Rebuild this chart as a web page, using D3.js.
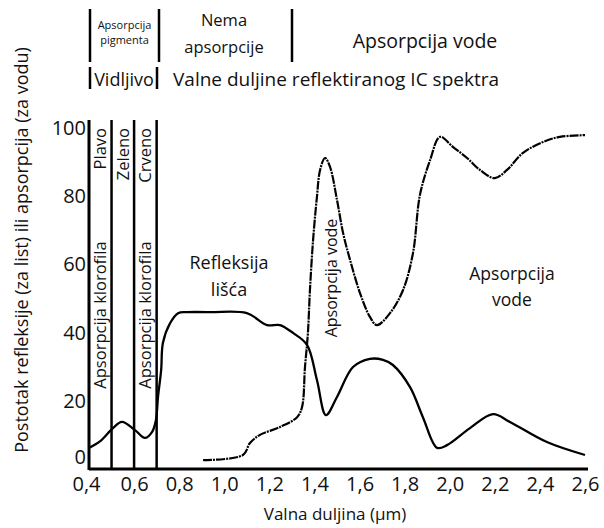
<!DOCTYPE html>
<html><head><meta charset="utf-8">
<script src="https://cdn.jsdelivr.net/npm/d3@7"></script>
<style>
html,body{margin:0;padding:0;background:#fff;}
text{font-family:"Open Sans",sans-serif;fill:#111;}
</style></head>
<body><svg id="c" width="604" height="528"></svg>
<script>
// wavelength (µm) and percent values
const leafWavelength = [0.40,0.45,0.506,0.546,0.604,0.648,0.68,0.697,0.706,0.72,0.728,0.76,0.795,0.835,0.94,1.10,1.19,1.247,1.305,1.367,1.411,1.451,1.50,1.571,1.646,1.704,1.748,1.824,1.881,1.944,1.988,2.09,2.192,2.267,2.431,2.60];
const leafReflect    = [6.2,8.2,12.0,13.8,11.4,9.1,10.9,14.4,21.1,29,37,42.8,45.7,46,46,45.7,42.2,42.2,39.9,36.4,26.1,15.8,21.1,29.9,32.3,32.0,30.5,24.0,15.2,6.2,7.0,12.0,16.1,13.8,7.9,4.1];
const waterWavelength = [0.906,1.083,1.114,1.158,1.247,1.323,1.345,1.358,1.371,1.380,1.394,1.411,1.425,1.447,1.469,1.50,1.527,1.558,1.602,1.646,1.677,1.735,1.793,1.837,1.868,1.913,1.957,2.015,2.077,2.134,2.20,2.254,2.325,2.414,2.489,2.60];
const waterAbsorb     = [2.6,4.1,7.6,10.0,12.3,15.2,18.2,29.9,39.9,52.5,67.2,79.8,87.7,91.2,88.6,78.9,69.2,61.3,51.6,44.6,42.2,45.7,52.5,63.3,80.4,90.6,97.4,94.4,91.2,87.7,85.3,87.7,92.7,95.9,97.4,97.9];
const xTicks = [0.4,0.6,0.8,1.0,1.2,1.4,1.6,1.8,2.0,2.2,2.4,2.6];
const yTicks = [0,20,40,60,80,100];
const bandEdges = [0.5,0.6,0.7];
const bandNames = [{x:0.45,t:"Plavo"},{x:0.55,t:"Zeleno"},{x:0.65,t:"Crveno"}];

const svg = d3.select("#c");
const x = d3.scaleLinear().domain([0.4,2.6]).range([89,585]);
const y = d3.scaleLinear().domain([0,100]).range([469,128]);
const fmt = d => d3.format(".1f")(d).replace(".",",");

// axes
const xAxis = svg.append("g").attr("transform","translate(0,469)")
  .call(d3.axisBottom(x).tickValues(xTicks).tickFormat(fmt).tickSize(0).tickPadding(8));
xAxis.select(".domain").attr("stroke","#000").attr("stroke-width",3).attr("d","M89,0H588");
xAxis.selectAll("text").style("font-size","20px").attr("font-family","Open Sans").attr("fill","#111")
  .attr("dx",(d,i)=> i===0 ? -3 : 0);

const yAxis = svg.append("g").attr("transform","translate(89,0)")
  .call(d3.axisLeft(y).tickValues(yTicks).tickSize(0).tickPadding(3));
yAxis.select(".domain").attr("stroke","#000").attr("stroke-width",3).attr("d","M0,120V470");
yAxis.selectAll("text").style("font-size","20px").attr("font-family","Open Sans").attr("fill","#111")
  .attr("y",d=> d===0 ? -12 : 0);

// band boundaries
svg.selectAll("line.band").data(bandEdges).join("line").attr("class","band")
  .attr("x1",d=>x(d)).attr("x2",d=>x(d)).attr("y1",120).attr("y2",469)
  .attr("stroke","#000").attr("stroke-width",2.5);

// band names
svg.selectAll("text.bn").data(bandNames).join("text").attr("class","bn")
  .attr("transform",d=>`translate(${x(d.x)+6},128) rotate(-90)`)
  .attr("text-anchor","end").style("font-size","16.5px").text(d=>d.t);

// chlorophyll absorption labels
[0.45,0.65].forEach(v=>{
  svg.append("text").attr("transform",`translate(${x(v)+6},315) rotate(-90)`)
    .attr("text-anchor","middle").style("font-size","16.5px").text("Apsorpcija klorofila");
});

const line = d3.line().x(d=>x(d[0])).y(d=>y(d[1])).curve(d3.curveCatmullRom.alpha(0.5));
svg.append("path").datum(d3.zip(leafWavelength,leafReflect)).attr("d",line)
  .attr("fill","none").attr("stroke","#000").attr("stroke-width",2.3);
svg.append("path").datum(d3.zip(waterWavelength,waterAbsorb)).attr("d",line)
  .attr("fill","none").attr("stroke","#000").attr("stroke-width",2.2)
  .attr("stroke-dasharray","9,1,2,1");

// in-plot annotations
const t1 = svg.append("text").attr("text-anchor","middle").style("font-size","18px");
t1.append("tspan").attr("x",229).attr("y",269).text("Refleksija");
t1.append("tspan").attr("x",229).attr("y",296).text("lišća");
svg.append("text").attr("transform","translate(337,278) rotate(-90)")
  .attr("text-anchor","middle").style("font-size","16px").text("Apsorpcija vode");
const t2 = svg.append("text").attr("text-anchor","middle").style("font-size","17.5px");
t2.append("tspan").attr("x",512).attr("y",280).text("Apsorpcija");
t2.append("tspan").attr("x",512).attr("y",306).text("vode");

// axis titles
svg.append("text").attr("transform","translate(28,250) rotate(-90)")
  .attr("text-anchor","middle").style("font-size","18px")
  .text("Postotak refleksije (za list) ili apsorpcija (za vodu)");
svg.append("text").attr("x",335).attr("y",520).attr("text-anchor","middle")
  .style("font-size","17px").text("Valna duljina (µm)");

// header
const hdr = svg.append("g");
[[90,9,62],[159,9,62],[292,9,62],[90,67,89],[157,67,89]].forEach(b=>{
  hdr.append("line").attr("x1",b[0]).attr("x2",b[0]).attr("y1",b[1]).attr("y2",b[2])
    .attr("stroke","#000").attr("stroke-width",2.5);
});
const h1 = hdr.append("text").attr("text-anchor","middle").style("font-size","11px");
h1.append("tspan").attr("x",124.5).attr("y",29).text("Apsorpcija");
h1.append("tspan").attr("x",124.5).attr("y",44).text("pigmenta");
const h2 = hdr.append("text").attr("text-anchor","middle").style("font-size","16.5px");
h2.append("tspan").attr("x",224).attr("y",26).text("Nema");
h2.append("tspan").attr("x",224).attr("y",53).text("apsorpcije");
hdr.append("text").attr("x",425).attr("y",48).attr("text-anchor","middle").style("font-size","19.5px").text("Apsorpcija vode");
hdr.append("text").attr("x",124).attr("y",86).attr("text-anchor","middle").style("font-size","18px").text("Vidljivo");
hdr.append("text").attr("x",336).attr("y",86).attr("text-anchor","middle").style("font-size","19px").text("Valne duljine reflektiranog IC spektra");
</script></body></html>
